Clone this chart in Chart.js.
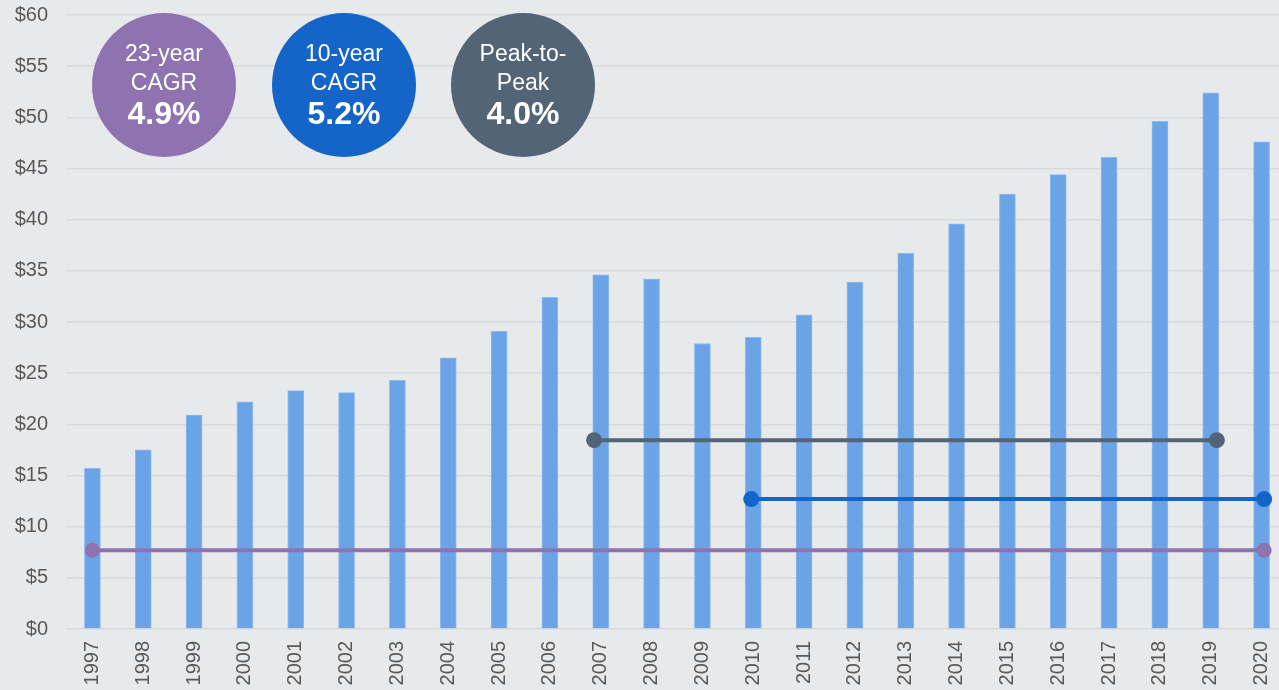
<!DOCTYPE html>
<html>
<head>
<meta charset="utf-8">
<script src="https://cdn.jsdelivr.net/npm/chart.js"></script>
<style>
  html, body { margin: 0; padding: 0; background: #e8e9eb; overflow: hidden; }
  #wrap { width: 1287px; height: 690px; }
  #chart { display: block; width: 1287px; height: 690px; }
</style>
</head>
<body>
<div id="wrap"><canvas id="chart" width="1287" height="690"></canvas></div>
<script>
const years = ["1997","1998","1999","2000","2001","2002","2003","2004","2005","2006","2007","2008",
  "2009","2010","2011","2012","2013","2014","2015","2016","2017","2018","2019","2020"];
const values = [15.7, 17.5, 20.9, 22.2, 23.3, 23.1, 24.3, 26.5, 29.1, 32.4, 34.6, 34.2,
  27.9, 28.5, 30.7, 33.9, 36.7, 39.6, 42.5, 44.4, 46.1, 49.6, 52.4, 47.6];

// reference lines: [start, end] positions along the year axis and their level
const cagr23X = [1997.0, 2020.05];
const cagr23Y = 7.7;
const cagr10X = [2009.96, 2020.05];
const cagr10Y = 12.7;
const peakX = [2006.87, 2019.12];
const peakY = 18.45;

const badges = [
  { lines: ["23-year", "CAGR"], value: "4.9%", color: "#8e73b0", cx: 164 },
  { lines: ["10-year", "CAGR"], value: "5.2%", color: "#1565c8", cx: 344 },
  { lines: ["Peak-to-", "Peak"], value: "4.0%", color: "#536476", cx: 523 }
];

const FONT = "'Liberation Sans', Arial, sans-serif";

const bgPlugin = {
  id: "bg",
  beforeDraw(chart) {
    const c = chart.ctx;
    c.save();
    c.fillStyle = "#e8e9eb";
    c.fillRect(0, 0, chart.width, chart.height);
    c.restore();
  }
};

const badgePlugin = {
  id: "badges",
  afterDraw(chart) {
    const c = chart.ctx;
    c.save();
    badges.forEach(b => {
      c.beginPath();
      c.arc(b.cx, 85, 72, 0, Math.PI * 2);
      c.fillStyle = b.color;
      c.fill();
      c.fillStyle = "#ffffff";
      c.textAlign = "center";
      c.textBaseline = "alphabetic";
      c.font = "23px " + FONT;
      c.fillText(b.lines[0], b.cx, 61);
      c.fillText(b.lines[1], b.cx, 90);
      c.font = "bold 32px " + FONT;
      c.fillText(b.value, b.cx, 124);
    });
    c.restore();
  }
};

function seg(xs, y) {
  return [{ x: xs[0], y: y }, { x: xs[1], y: y }];
}

function lineSet(data, color, r) {
  return {
    type: "line",
    data: data,
    xAxisID: "xl",
    yAxisID: "y",
    borderColor: color,
    backgroundColor: color,
    borderWidth: 4,
    pointRadius: r,
    pointHoverRadius: r,
    pointBorderWidth: 0,
    fill: false,
    clip: false,
    order: 0
  };
}

new Chart(document.getElementById("chart"), {
  type: "bar",
  data: {
    labels: years,
    datasets: [
      {
        type: "bar",
        data: values,
        xAxisID: "x",
        yAxisID: "y",
        backgroundColor: "#6ba4e6",
        borderColor: "#8cb9ee",
        borderWidth: 1,
        grouped: false,
        barThickness: 16,
        order: 1
      },
      lineSet(seg(cagr23X, cagr23Y), "#8e73b0", 7.5),
      lineSet(seg(cagr10X, cagr10Y), "#1565c8", 8),
      lineSet(seg(peakX, peakY), "#536476", 8)
    ]
  },
  options: {
    responsive: false,
    animation: false,
    events: [],
    layout: { autoPadding: false, padding: { top: 15, left: 0, right: 0, bottom: 0 } },
    plugins: { legend: { display: false }, tooltip: { enabled: false } },
    scales: {
      x: {
        type: "category",
        offset: true,
        grid: { display: false, drawTicks: false },
        border: { display: false },
        ticks: {
          color: "#595959",
          font: { family: FONT, size: 20 },
          maxRotation: 90,
          minRotation: 90,
          padding: 12,
          autoSkip: false
        },
        afterFit(s) {
          s.height = 61;
          s.paddingLeft = 0;
          s.paddingRight = 0;
        }
      },
      xl: {
        type: "linear",
        display: false,
        offset: false,
        min: 1996.5,
        max: 2020.5
      },
      y: {
        min: 0,
        max: 60,
        grid: { color: "#d8d9dc", lineWidth: 1.5, drawTicks: false },
        border: { display: false },
        ticks: {
          stepSize: 5,
          color: "#595959",
          font: { family: FONT, size: 20 },
          padding: 19,
          callback: v => "$" + v
        },
        afterFit(s) {
          s.width = 67;
          s.paddingTop = 0;
          s.paddingBottom = 0;
        }
      }
    }
  },
  plugins: [bgPlugin, badgePlugin]
});
</script>
</body>
</html>
